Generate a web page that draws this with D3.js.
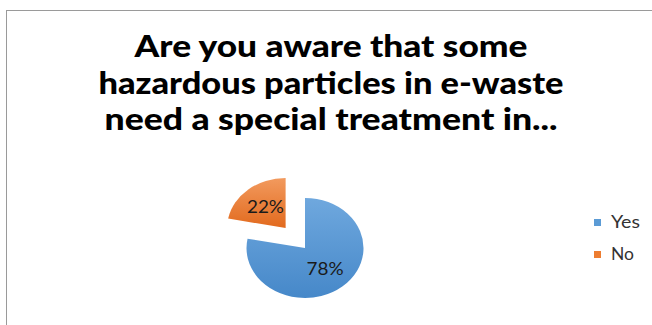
<!DOCTYPE html>
<html>
<head>
<meta charset="utf-8">
<script src="https://cdn.jsdelivr.net/npm/d3@7"></script>
<style>
  html, body { margin: 0; padding: 0; background: #fff; }
  svg { display: block; }
</style>
</head>
<body>
<svg id="chart" width="652" height="325"></svg>
<script>
// Survey answers
const categories = ["Yes", "No"];
const values = [78, 22];
const labels = ["78%", "22%"];
const titleLines = ["Are you aware that some", "hazardous particles in e-waste", "need a special treatment in..."];

const svg = d3.select("#chart");
const defs = svg.append("defs");

// Frame of the chart area
svg.append("rect")
  .attr("x", 6.5).attr("y", 10.5)
  .attr("width", 700).attr("height", 400)
  .attr("fill", "#fff").attr("stroke", "#9a9a9a").attr("stroke-width", 1);

// Title
const titleWidths = [393, 465, 453];
svg.append("g").selectAll("text")
  .data(titleLines)
  .join("text")
  .attr("x", 331)
  .attr("y", (d, i) => 57 + i * 36.5)
  .attr("text-anchor", "middle")
  .attr("textLength", (d, i) => titleWidths[i])
  .attr("lengthAdjust", "spacingAndGlyphs")
  .attr("font-family", "Lato, 'Open Sans', sans-serif")
  .attr("font-weight", 900)
  .attr("font-size", 30)
  .attr("fill", "#000")
  .text(d => d);

// Slice fills with a soft vertical gradient
const color = d3.scaleOrdinal().domain(categories).range(["#5b9bd5", "#ed7d31"]);
const grads = { Yes: ["#6fa8de", "#4688c9"], No: ["#f29a5e", "#e26a1e"] };
categories.forEach(c => {
  const g = defs.append("linearGradient")
    .attr("id", "grad-" + c).attr("x1", 0).attr("y1", 0).attr("x2", 0).attr("y2", 1);
  g.append("stop").attr("offset", "0%").attr("stop-color", grads[c][0]);
  g.append("stop").attr("offset", "100%").attr("stop-color", grads[c][1]);
});

// Pie
const cx = 305, cy = 248, r = 50, sx = 1.17;
const explode = { Yes: 0, No: 26 };
const pie = d3.pie().sort(null).value(d => d.value);
const arcs = pie(categories.map((c, i) => ({ cat: c, value: values[i], label: labels[i] })));
const arc = d3.arc().innerRadius(0).outerRadius(r);

const pieG = svg.append("g").attr("transform", `translate(${cx},${cy})`);

arcs.forEach(a => {
  const mid = (a.startAngle + a.endAngle) / 2;
  const off = explode[a.data.cat];
  const ox = Math.sin(mid) * off * sx, oy = -Math.cos(mid) * off;
  pieG.append("path")
    .attr("d", arc(a))
    .attr("transform", `translate(${ox},${oy}) scale(${sx},1)`)
    .attr("fill", `url(#grad-${a.data.cat})`);
  const lr = 27;
  const lx = ox + Math.sin(mid) * lr * sx;
  const ly = oy - Math.cos(mid) * lr;
  pieG.append("text")
    .attr("x", lx).attr("y", ly + 6)
    .attr("text-anchor", "middle")
    .attr("textLength", 37)
    .attr("lengthAdjust", "spacingAndGlyphs")
    .attr("font-family", "Lato, 'Open Sans', sans-serif")
    .attr("font-size", 17)
    .attr("fill", "#1a1a1a")
    .text(a.data.label);
});

// Legend
const legend = svg.append("g").selectAll("g")
  .data(categories)
  .join("g")
  .attr("transform", (d, i) => `translate(594,${219 + i * 32})`);
legend.append("rect")
  .attr("width", 7).attr("height", 7)
  .attr("fill", d => color(d));
legend.append("text")
  .attr("x", 17).attr("y", 9)
  .attr("textLength", d => d === "Yes" ? 29 : 23)
  .attr("lengthAdjust", "spacingAndGlyphs")
  .attr("font-family", "Lato, 'Open Sans', sans-serif")
  .attr("font-size", 17.5)
  .attr("fill", "#333")
  .text(d => d);
</script>
</body>
</html>
